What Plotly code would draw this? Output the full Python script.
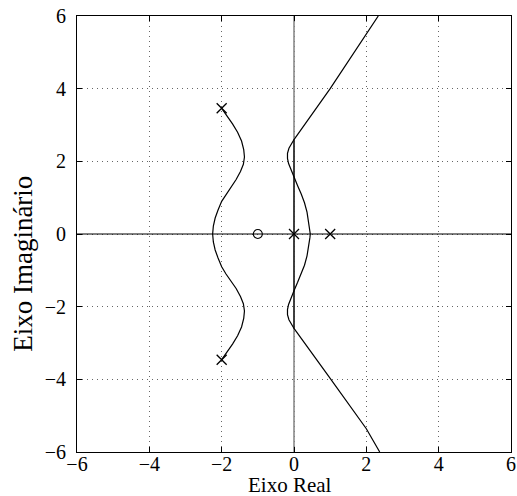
import plotly.graph_objects as go

# ---- data ----
tick_vals = [-6, -4, -2, 0, 2, 4, 6]
tick_text = ["\u22126", "\u22124", "\u22122", "0", "2", "4", "6"]

pole_re = [0.0, 1.0, -2.0, -2.0]
pole_im = [0.0, 0.0, 3.46, -3.46]
zero_re = [-1.0]
zero_im = [0.0]

# right branch (top -> bottom)
right_re = [2.33, 1.00, 0.00, -0.08, -0.14, -0.18, -0.18, -0.15, -0.09, 0.00,
            0.10, 0.20, 0.29, 0.36, 0.41, 0.44, 0.45, 0.44, 0.41, 0.36, 0.29,
            0.20, 0.10, 0.00, -0.09, -0.15, -0.18, -0.18, -0.14, -0.08, 0.00,
            1.02, 2.00, 2.37]
right_im = [6.00, 4.00, 2.60, 2.48, 2.36, 2.22, 2.08, 1.94, 1.78, 1.56,
            1.33, 1.10, 0.86, 0.60, 0.33, 0.10, 0.00, -0.10, -0.33, -0.60, -0.86,
            -1.10, -1.33, -1.56, -1.78, -1.94, -2.08, -2.22, -2.36, -2.48, -2.60,
            -4.00, -5.36, -6.00]

# left branch (upper pole -> lower pole)
left_re = [-2.00, -1.85, -1.70, -1.56, -1.45, -1.39, -1.37, -1.40, -1.48, -1.60,
           -1.74, -1.88, -2.00, -2.10, -2.18, -2.23, -2.25, -2.23, -2.18, -2.10,
           -2.00, -1.88, -1.74, -1.60, -1.48, -1.40, -1.37, -1.39, -1.45, -1.56,
           -1.70, -1.85, -2.00]
left_im = [3.46, 3.25, 3.03, 2.80, 2.56, 2.32, 2.12, 1.92, 1.72, 1.50,
           1.30, 1.10, 0.90, 0.66, 0.44, 0.22, 0.00, -0.22, -0.44, -0.66,
           -0.90, -1.10, -1.30, -1.50, -1.72, -1.92, -2.12, -2.32, -2.56, -2.80,
           -3.03, -3.25, -3.46]

real_axis_re = [-6, 6]
real_axis_im = [0, 0]
imag_axis_re = [0, 0]
imag_axis_im = [-6, 6]
imag_seg_re = [0, 0]
imag_seg_im = [-2.6, 2.6]

fig = go.Figure()
fig.add_trace(go.Scatter(x=imag_axis_re, y=imag_axis_im, mode="lines",
                         line=dict(color="#8a8a8a", width=1.6), showlegend=False))
fig.add_trace(go.Scatter(x=imag_seg_re, y=imag_seg_im, mode="lines",
                         line=dict(color="black", width=1.2), showlegend=False))
fig.add_trace(go.Scatter(x=real_axis_re, y=real_axis_im, mode="lines",
                         line=dict(color="black", width=1.2), showlegend=False))
fig.add_trace(go.Scatter(x=right_re, y=right_im, mode="lines",
                         line=dict(color="black", width=1.2), showlegend=False))
fig.add_trace(go.Scatter(x=left_re, y=left_im, mode="lines",
                         line=dict(color="black", width=1.2), showlegend=False))
fig.add_trace(go.Scatter(x=pole_re, y=pole_im, mode="markers",
                         marker=dict(symbol="x-thin", size=10, color="black",
                                     line=dict(color="black", width=1.3)),
                         showlegend=False))
fig.add_trace(go.Scatter(x=zero_re, y=zero_im, mode="markers",
                         marker=dict(symbol="circle-open", size=9, color="black",
                                     line=dict(color="black", width=1.1)),
                         showlegend=False))

axis_common = dict(
    range=[-6, 6], tickvals=tick_vals, ticktext=tick_text,
    ticks="inside", ticklen=5, tickcolor="black", tickwidth=1,
    showline=True, linecolor="black", linewidth=1, mirror="ticks",
    showgrid=True, gridcolor="#666666", gridwidth=1, griddash="1px,4px",
    zeroline=False, automargin=False,
    tickfont=dict(family="Liberation Serif", size=20, color="black"),
)

fig.update_layout(
    width=517, height=496, autosize=False,
    margin=dict(l=77, r=6, t=16, b=44, autoexpand=False),
    paper_bgcolor="white", plot_bgcolor="white",
    xaxis=dict(**axis_common, ticklabelstandoff=-6),
    yaxis=dict(**axis_common, ticklabelstandoff=6),
    annotations=[
        dict(text="Eixo Real", xref="paper", yref="paper", x=0.49, y=-0.076,
             xanchor="center", yanchor="middle", showarrow=False,
             font=dict(family="Liberation Serif", size=21, color="black")),
        dict(text="Eixo Imaginário", xref="paper", yref="paper", x=-0.125, y=0.431,
             xanchor="center", yanchor="middle", showarrow=False, textangle=-90,
             font=dict(family="Liberation Serif", size=27, color="black")),
    ],
)

fig.write_html(
    "out.html",
    config={"displayModeBar": False},
    post_script="document.body.style.margin='0';document.body.style.overflow='hidden';",
)
